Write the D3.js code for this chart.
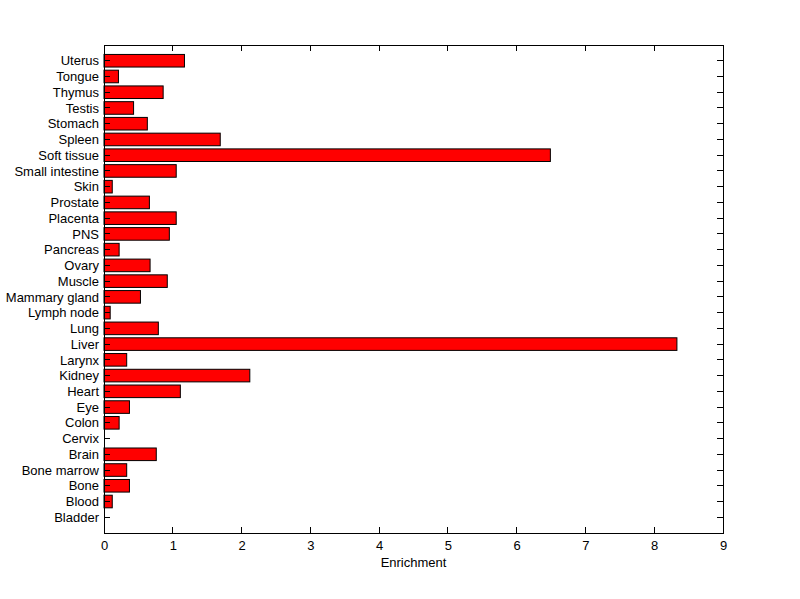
<!DOCTYPE html>
<html><head><meta charset="utf-8">
<script src="https://cdn.jsdelivr.net/npm/d3@7"></script>
<style>body{margin:0;background:#fff;} text{font-family:"Liberation Sans",Arial,sans-serif;}</style>
</head><body>
<svg id="c" width="800" height="599"></svg>
<script>
const categories = ["Bladder","Blood","Bone","Bone marrow","Brain","Cervix","Colon","Eye","Heart","Kidney","Larynx","Liver","Lung","Lymph node","Mammary gland","Muscle","Ovary","Pancreas","PNS","Placenta","Prostate","Skin","Small intestine","Soft tissue","Spleen","Stomach","Testis","Thymus","Tongue","Uterus"];
const values = [0,0.12,0.37,0.33,0.76,0,0.22,0.37,1.11,2.12,0.33,8.33,0.79,0.09,0.53,0.92,0.67,0.22,0.95,1.05,0.66,0.12,1.05,6.49,1.69,0.63,0.43,0.86,0.21,1.17];
const xTicks = [0,1,2,3,4,5,6,7,8,9];
const xLabel = "Enrichment";

const svg = d3.select("#c");
const L=104, R=723, T=45, B=533;
const FS=13;
const x = d3.scaleLinear().domain([0,9]).range([L,R]);
const y = d3.scaleLinear().domain([0,31]).range([B,T]);
const bw = y(0)-y(0.8);

svg.append("rect").attr("x",0).attr("y",0).attr("width",800).attr("height",599).attr("fill","#fff");

svg.selectAll("rect.bar").data(values).enter().append("rect").attr("class","bar")
  .attr("x",x(0)).attr("y",(d,i)=>y(i+1)-bw/2)
  .attr("width",d=>Math.max(0,x(d)-x(0))).attr("height",bw)
  .attr("fill","#ff0000").attr("stroke","#000").attr("stroke-width",1)
  .style("display",d=>d>0?null:"none");

const tl=6;
const ax = d3.axisBottom(x).tickValues(xTicks).tickSize(0).tickPadding(8).tickFormat(d3.format("d"));
const gx = svg.append("g").attr("transform",`translate(0,${B})`).call(ax);
gx.select(".domain").remove();
gx.selectAll("text").attr("font-size",FS).attr("fill","#000");

const ay = d3.axisLeft(y).tickValues(d3.range(1,31)).tickSize(0).tickPadding(5).tickFormat(d=>categories[d-1]);
const gy = svg.append("g").attr("transform",`translate(${L},0)`).call(ay);
gy.select(".domain").remove();
gy.selectAll("text").attr("font-size",FS).attr("fill","#000");

const tg = svg.append("g").attr("stroke","#000").attr("stroke-width",1).attr("shape-rendering","crispEdges");
xTicks.forEach(t=>{
  tg.append("line").attr("x1",x(t)).attr("x2",x(t)).attr("y1",B).attr("y2",B-tl);
  tg.append("line").attr("x1",x(t)).attr("x2",x(t)).attr("y1",T).attr("y2",T+tl);
});
d3.range(1,31).forEach(i=>{
  tg.append("line").attr("x1",L).attr("x2",L+tl).attr("y1",y(i)).attr("y2",y(i));
  tg.append("line").attr("x1",R).attr("x2",R-tl).attr("y1",y(i)).attr("y2",y(i));
});
svg.append("rect").attr("x",L).attr("y",T).attr("width",R-L).attr("height",B-T)
  .attr("fill","none").attr("stroke","#000").attr("shape-rendering","crispEdges");

svg.append("text").attr("x",(L+R)/2).attr("y",567).attr("text-anchor","middle").attr("font-size",FS).text(xLabel);
</script>
</body></html>
